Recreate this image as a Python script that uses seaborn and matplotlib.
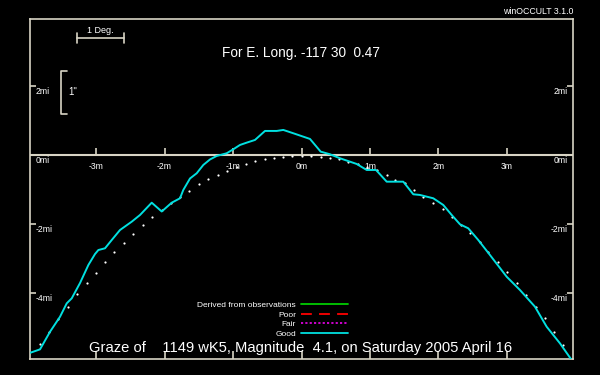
import matplotlib
matplotlib.use("Agg")
import matplotlib.pyplot as plt
import seaborn as sns
import pandas as pd
from matplotlib.lines import Line2D

# ---------------- data ----------------
good_x = [-3.959, -3.818, -3.672, -3.526, -3.428, -3.355, -3.234, -3.112, -3.015, -2.966,
          -2.869, -2.771, -2.650, -2.479, -2.358, -2.187, -2.041, -1.895, -1.774, -1.726,
          -1.628, -1.530, -1.434, -1.336, -1.238, -1.092, -0.996, -0.898, -0.800, -0.679,
          -0.533, -0.362, -0.266, -0.120, 0.124, 0.280, 0.416, 0.562, 0.806, 0.952,
          1.088, 1.244, 1.486, 1.632, 1.730, 1.924, 2.070, 2.193, 2.314, 2.435,
          2.581, 2.752, 2.996, 3.190, 3.409, 3.580, 3.774, 3.945]
good_y = [-5.730, -5.632, -5.122, -4.687, -4.299, -4.154, -3.710, -3.188, -2.870, -2.754,
          -2.704, -2.464, -2.174, -1.933, -1.739, -1.383, -1.638, -1.383, -1.255, -1.014,
          -0.681, -0.530, -0.290, -0.130, -0.029, 0.049, 0.165, 0.290, 0.357, 0.435,
          0.696, 0.696, 0.725, 0.629, 0.464, 0.096, 0.020, -0.096, -0.261, -0.435,
          -0.435, -0.774, -0.774, -1.139, -1.159, -1.255, -1.449, -1.739, -2.009, -2.125,
          -2.464, -2.899, -3.528, -3.913, -4.397, -4.977, -5.458, -5.942]

mean_x = [-3.818, -3.686, -3.550, -3.413, -3.282, -3.136, -3.004, -2.869, -2.733, -2.596,
          -2.455, -2.318, -2.178, -2.041, -1.905, -1.774, -1.638, -1.496, -1.361, -1.223,
          -1.083, -0.946, -0.810, -0.679, -0.533, -0.401, -0.266, -0.143, 0.003, 0.139,
          0.280, 0.416, 0.547, 0.683, 0.829, 0.956, 1.102, 1.244, 1.365, 1.511,
          1.642, 1.778, 1.920, 2.061, 2.193, 2.328, 2.460, 2.606, 2.727, 2.873,
          3.004, 3.142, 3.277, 3.423, 3.555, 3.691, 3.822]
mean_y = [-5.487, -5.122, -4.762, -4.397, -4.038, -3.719, -3.412, -3.093, -2.803, -2.559,
          -2.290, -2.029, -1.806, -1.594, -1.383, -1.209, -1.035, -0.841, -0.704, -0.580,
          -0.455, -0.357, -0.261, -0.174, -0.116, -0.078, -0.049, -0.020, -0.020, -0.029,
          -0.049, -0.078, -0.130, -0.194, -0.261, -0.348, -0.449, -0.580, -0.725, -0.820,
          -1.014, -1.226, -1.383, -1.574, -1.788, -2.029, -2.270, -2.513, -2.803, -3.093,
          -3.400, -3.719, -4.058, -4.397, -4.733, -5.122, -5.507]

x_ticks = [-3, -2, -1, 0, 1, 2, 3]
x_tick_labels = ["-3m", "-2m", "-1m", "0m", "1m", "2m", "3m"]
y_ticks = [2, 0, -2, -4]
y_tick_labels = ["2mi", "0mi", "-2mi", "-4mi"]

legend_labels = ["Derived from observations", "Poor", "Fair", "Good"]
legend_colors = ["#00cc00", "#ff0000", "#dd00dd", "#00e0e0"]

title = "For E. Long. -117 30  0.47"
footer = "Graze of    1149 wK5, Magnitude  4.1, on Saturday 2005 April 16"
brand = "winOCCULT 3.1.0"

# ---------------- style ----------------
sns.set_style("dark")
plt.rcParams["font.family"] = ["Liberation Sans", "DejaVu Sans"]
NARROW = ["Liberation Sans Narrow", "Liberation Sans", "DejaVu Sans"]
FG = "#d8d4c4"

fig = plt.figure(figsize=(6, 3.75), dpi=100, facecolor="black")
ax = fig.add_axes([0.0505, 0.0419, 0.904, 0.9075])
ax.set_facecolor("black")
ax.grid(False)
for s in ax.spines.values():
    s.set_visible(True)
    s.set_color(FG)
    s.set_linewidth(1.2)

ax.set_xlim(-3.96, 3.96)
ax.set_ylim(-5.92, 3.94)

# zero line
ax.axhline(0, color=FG, lw=1.5, zorder=1)

good = pd.DataFrame({"x": good_x, "y": good_y})
mean = pd.DataFrame({"x": mean_x, "y": mean_y})

sns.scatterplot(data=mean, x="x", y="y", ax=ax, color="white", s=2.5,
                linewidth=0, zorder=2, legend=False)
sns.lineplot(data=good, x="x", y="y", ax=ax, sort=False, color=legend_colors[3],
             lw=1.4, zorder=3, legend=False)

# ticks
ax.set_xticks(x_ticks)
ax.set_xticklabels([])
ax.set_yticks(y_ticks)
ax.set_yticklabels([])
ax.tick_params(axis="x", direction="in", length=6, width=1.2, color=FG,
               bottom=True, top=False)
ax.tick_params(axis="y", direction="in", length=4, width=1.2, color=FG,
               left=True, right=True)
ax.set_xlabel("")
ax.set_ylabel("")

# ticks on the zero line
ax.vlines(x_ticks, 0, 0.2, color=FG, lw=1.2, zorder=1)
for xv, lab in zip(x_ticks, x_tick_labels):
    ax.text(xv, -0.32, lab, color="white", ha="center", va="center",
            fontsize=6.2, family=NARROW)

# y tick labels (inside the box)
tl = ax.get_yaxis_transform()
for yv, lab in zip(y_ticks, y_tick_labels):
    ax.text(0.009, yv - 0.16, lab, transform=tl, color="white", ha="left",
            va="center", fontsize=6.2, family=NARROW)
    ax.text(0.99, yv - 0.16, lab, transform=tl, color="white", ha="right",
            va="center", fontsize=6.2, family=NARROW)

# scale bars
ta = ax.transAxes
ax.plot([0.0855, 0.1727], [0.945, 0.945], color=FG, lw=1.2, transform=ta, clip_on=False)
ax.plot([0.0855, 0.0855], [0.930, 0.960], color=FG, lw=1.2, transform=ta, clip_on=False)
ax.plot([0.1727, 0.1727], [0.930, 0.960], color=FG, lw=1.2, transform=ta, clip_on=False)
ax.text(0.129, 0.953, "1 Deg.", transform=ta, color="white", ha="center",
        va="bottom", fontsize=6.5, family=NARROW)
ax.plot([0.067, 0.056, 0.056, 0.067], [0.847, 0.847, 0.721, 0.721], color=FG,
        lw=1.2, transform=ta, clip_on=False)
ax.text(0.0695, 0.786, '1"', transform=ta, color="white", ha="left",
        va="center", fontsize=7, family=NARROW)

# texts
ax.text(0.499, 0.900, title, transform=ta, color="white", ha="center",
        va="center", fontsize=9.8)
ax.text(0.499, 0.034, footer, transform=ta, color="white", ha="center",
        va="center", fontsize=10.6)
fig.text(0.955, 0.969, brand, color="white", ha="right", va="center",
         fontsize=6.3, family=NARROW)

# legend
styles = ["-", (0, (6, 4)), (0, (1.2, 1.2)), "-"]
handles = [Line2D([], [], color=c, ls=ls, lw=1.3) for c, ls in zip(legend_colors, styles)]
leg = ax.legend(handles, legend_labels, loc="upper right",
                bbox_to_anchor=((347.7 - 30.3) / 542.4, (359.3 - 301.5) / 340.3),
                frameon=False, markerfirst=False, handlelength=5.6,
                handletextpad=0.6, labelspacing=0.2, borderpad=0,
                borderaxespad=0, labelcolor="white",
                prop={"family": NARROW, "size": 6.0})

fig.savefig("out.png", dpi=100, facecolor="black")
